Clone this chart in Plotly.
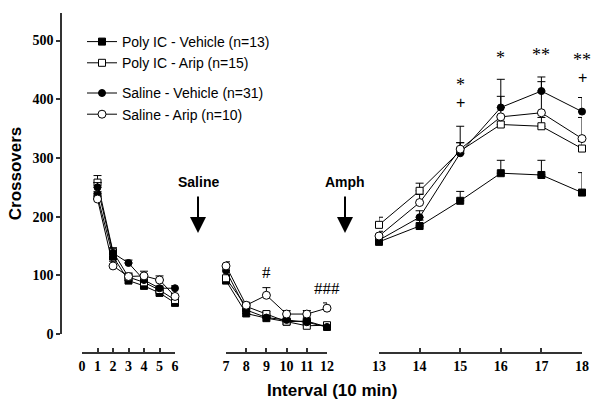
import plotly.graph_objects as go

# ---------------- data ----------------
seg1_x = [1, 2, 3, 4, 5, 6]
seg2_x = [7, 8, 9, 10, 11, 12]
seg3_x = [13, 14, 15, 16, 17, 18]

series_names = ["Poly IC - Vehicle (n=13)", "Poly IC - Arip (n=15)",
                "Saline - Vehicle (n=31)", "Saline - Arip (n=10)"]

polyic_veh_1 = [235, 132, 91, 82, 70, 53]
polyic_veh_2 = [91, 35, 27, 21, 22, 12]
polyic_veh_3 = [157, 184, 227, 274, 271, 241]
polyic_veh_e1 = [8, 6, 5, 5, 5, 4]
polyic_veh_e2 = [5, 3, 3, 3, 3, 2]
polyic_veh_e3 = [6, 10, 16, 22, 25, 34]

polyic_arip_1 = [258, 140, 97, 88, 75, 58]
polyic_arip_2 = [95, 47, 34, 21, 14, 15]
polyic_arip_3 = [186, 244, 312, 357, 354, 316]
polyic_arip_e1 = [12, 7, 5, 6, 5, 4]
polyic_arip_e2 = [6, 4, 4, 3, 3, 3]
polyic_arip_e3 = [13, 13, 14, 15, 15, 12]

saline_veh_1 = [250, 138, 121, 92, 78, 78]
saline_veh_2 = [108, 41, 28, 24, 20, 12]
saline_veh_3 = [160, 199, 308, 386, 414, 379]
saline_veh_e1 = [8, 5, 5, 5, 4, 4]
saline_veh_e2 = [5, 3, 3, 3, 3, 2]
saline_veh_e3 = [5, 11, 46, 48, 24, 24]

saline_arip_1 = [230, 116, 98, 99, 92, 64]
saline_arip_2 = [116, 49, 66, 34, 34, 44]
saline_arip_3 = [167, 224, 315, 370, 377, 333]
saline_arip_e1 = [10, 8, 6, 8, 7, 5]
saline_arip_e2 = [7, 5, 13, 6, 6, 9]
saline_arip_e3 = [8, 14, 11, 35, 53, 36]

x1_ticks = [0, 1, 2, 3, 4, 5, 6]
x2_ticks = [7, 8, 9, 10, 11, 12]
x3_ticks = [13, 14, 15, 16, 17, 18]
y_ticks = [0, 100, 200, 300, 400, 500]

# ---------------- figure ----------------
W, H = 601, 405
fig = go.Figure()

styles = [
    dict(symbol="square", color="black", line=dict(color="black", width=1), size=7),
    dict(symbol="square", color="white", line=dict(color="black", width=1), size=7),
    dict(symbol="circle", color="black", line=dict(color="black", width=1), size=7),
    dict(symbol="circle", color="white", line=dict(color="black", width=1), size=8),
]
groups = ["poly", "poly", "sal", "sal"]
data = [
    [(polyic_veh_1, polyic_veh_e1), (polyic_veh_2, polyic_veh_e2), (polyic_veh_3, polyic_veh_e3)],
    [(polyic_arip_1, polyic_arip_e1), (polyic_arip_2, polyic_arip_e2), (polyic_arip_3, polyic_arip_e3)],
    [(saline_veh_1, saline_veh_e1), (saline_veh_2, saline_veh_e2), (saline_veh_3, saline_veh_e3)],
    [(saline_arip_1, saline_arip_e1), (saline_arip_2, saline_arip_e2), (saline_arip_3, saline_arip_e3)],
]
xs = [seg1_x, seg2_x, seg3_x]
xaxes = ["x", "x2", "x3"]

for si, name in enumerate(series_names):
    for k in range(3):
        yv, ev = data[si][k]
        fig.add_trace(go.Scatter(
            x=xs[k], y=yv, xaxis=xaxes[k], yaxis="y",
            mode="lines+markers", name=name, legendgroup=groups[si],
            showlegend=(k == 0), cliponaxis=False,
            line=dict(color="black", width=1),
            marker=styles[si],
            error_y=dict(type="data", symmetric=False, array=ev,
                         arrayminus=[0] * len(ev), color="black",
                         thickness=1, width=4),
        ))

tickfont = dict(family="Liberation Serif", size=14, color="black", weight="bold")
axline = dict(showline=True, linecolor="#333", linewidth=1.5, showgrid=False,
              zeroline=False, ticks="inside", ticklen=4, tickcolor="#333",
              tickwidth=1.5, tickfont=tickfont, anchor="free", automargin=False,
              position=(H - 353) / H, fixedrange=True)

fig.update_layout(
    width=W, height=H,
    margin=dict(l=0, r=0, t=0, b=0),
    paper_bgcolor="white", plot_bgcolor="white",
    xaxis=dict(domain=[82 / W, 175 / W], range=[0, 6], tickvals=x1_ticks, **axline),
    xaxis2=dict(domain=[226 / W, 327 / W], range=[7, 12], tickvals=x2_ticks, **axline),
    xaxis3=dict(domain=[379 / W, 582 / W], range=[13, 18], tickvals=x3_ticks, **axline),
    yaxis=dict(domain=[(H - 334) / H, (H - 13) / H], range=[0, 547],
               anchor="free", position=61 / W, tickvals=y_ticks, automargin=False,
               showline=True, linecolor="#333", linewidth=1.5, showgrid=False,
               zeroline=False, ticks="outside", ticklen=4, tickcolor="#333",
               tickwidth=1.5, tickfont=tickfont, fixedrange=True,
               title=dict(text="Crossovers", standoff=6,
                          font=dict(family="Liberation Sans", size=17,
                                    color="black", weight="bold"))),
    legend=dict(x=82 / W, y=(H - 26) / H, xanchor="left", yanchor="top",
                traceorder="grouped", tracegroupgap=9,
                font=dict(family="Liberation Sans", size=14, color="black"),
                bgcolor="rgba(0,0,0,0)", itemwidth=30),
    showlegend=True,
)

ann = []
# x-axis title
ann.append(dict(text="<b>Interval (10 min)</b>", xref="paper", yref="paper",
                x=332 / W, y=(H - 390) / H, yanchor="middle", showarrow=False,
                font=dict(family="Liberation Sans", size=17, color="black")))
# injection arrows
for label, px in [("Saline", 198), ("Amph", 345)]:
    ann.append(dict(text="<b>" + label + "</b>", xref="paper", yref="y",
                    x=px / W, y=172, ax=0, ay=-51, showarrow=True,
                    arrowhead=2, arrowsize=1.6, arrowwidth=2, arrowcolor="black",
                    startstandoff=5,
                    font=dict(family="Liberation Sans", size=14, color="black")))
# significance marks (stars sit above, plus signs below)
star_font = dict(family="Liberation Serif", size=18, color="black")
plus_font = dict(family="Liberation Sans", size=16, color="black")
hash_font = dict(family="Liberation Serif", size=17, color="black")
star_marks = [(15, 406, "*"), (16, 452, "*"), (17, 457, "**"), (18, 448, "**")]
plus_marks = [(15, 410, "+"), (18, 453, "+")]
hash_marks = [(9, 104, "#"), (12, 77, "###")]
for xv, yv, t in star_marks:
    ann.append(dict(text=t, xref="x3", yref="y", x=xv, y=yv, yanchor="bottom",
                    borderpad=0, showarrow=False, font=star_font))
for xv, yv, t in plus_marks:
    ann.append(dict(text=t, xref="x3", yref="y", x=xv, y=yv, yanchor="top",
                    borderpad=0, showarrow=False, font=plus_font))
for xv, yv, t in hash_marks:
    ann.append(dict(text=t, xref="x2", yref="y", x=xv, y=yv, showarrow=False,
                    font=hash_font))
fig.update_layout(annotations=ann)

fig.write_html("out.html", config={"displayModeBar": False},
               post_script="document.body.style.margin='0';document.body.style.overflow='hidden';")
